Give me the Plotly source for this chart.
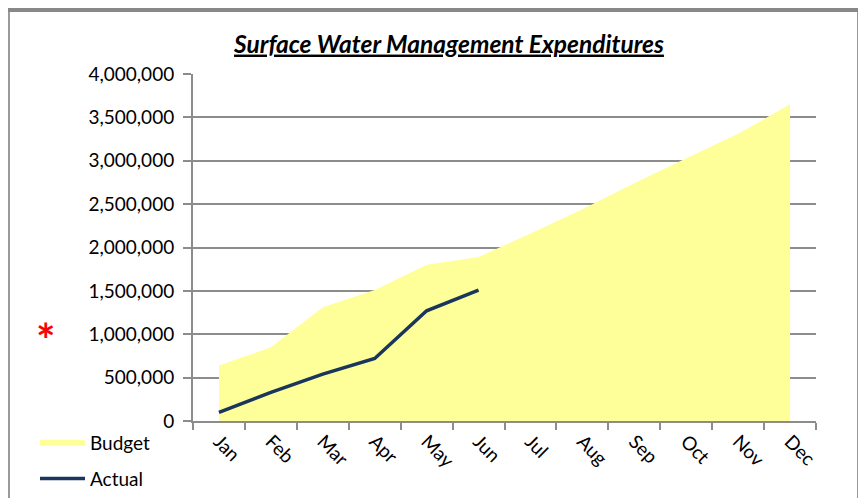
import plotly.graph_objects as go

months = ["Jan", "Feb", "Mar", "Apr", "May", "Jun", "Jul", "Aug", "Sep", "Oct", "Nov", "Dec"]
budget = [640000, 850000, 1310000, 1510000, 1800000, 1890000, 2160000, 2440000, 2740000, 3030000, 3310000, 3650000]
actual = [100000, 330000, 540000, 720000, 1270000, 1510000]
y_ticks = [0, 500000, 1000000, 1500000, 2000000, 2500000, 3000000, 3500000, 4000000]

# the page body adds an 8px offset; figure is sized to fit the window
OFF = 8
W, H = 866 - OFF, 498 - OFF
# plot area in screen pixels
L, R, T, B = 193, 816, 74, 421

def px(x):
    return (x - L) / (R - L)

def py(y):
    return (B - y) / (B - T)

FONT = "Lato, Open Sans, sans-serif"
GRID = "#8c8c8c"

fig = go.Figure()
fig.add_trace(go.Scatter(
    x=months, y=budget, name="Budget", mode="none", fill="tozeroy",
    fillcolor="#FFFF99", legendgroup="a",
))
fig.add_trace(go.Scatter(
    x=months[:len(actual)], y=actual, name="Actual", mode="lines",
    line=dict(color="#1B365D", width=3.5), legendgroup="b",
))

fig.update_layout(
    width=W, height=H,
    margin=dict(l=L - OFF, r=W - (R - OFF), t=T - OFF, b=H - (B - OFF), autoexpand=False),
    paper_bgcolor="white", plot_bgcolor="white",
    font=dict(family=FONT, size=19, color="#000000"),
    title=dict(
        text="<b><i><u>Surface Water Management Expenditures</u></i></b>",
        x=px(449), xref="paper", xanchor="center",
        y=1 - (44 - OFF) / H, yref="container", yanchor="middle",
        font=dict(family=FONT, size=24.5, color="#000000"),
    ),
    showlegend=True,
    legend=dict(
        x=px(35), y=py(424), xanchor="left", yanchor="top",
        xref="paper", yref="paper",
        font=dict(family=FONT, size=19, color="#000000"),
        itemwidth=45, tracegroupgap=8, traceorder="grouped",
        bgcolor="rgba(0,0,0,0)",
    ),
    xaxis=dict(
        type="category", range=[-0.5, 11.5],
        showline=True, linecolor=GRID, linewidth=2,
        ticks="outside", tickson="boundaries", ticklen=7, tickcolor=GRID, tickwidth=2,
        showgrid=False, tickangle=45, tickfont=dict(size=19),
        fixedrange=True,
    ),
    yaxis=dict(
        range=[0, 4000000], tickvals=y_ticks,
        tickformat=",d", showline=True, linecolor=GRID, linewidth=2,
        ticks="outside", ticklen=8, tickcolor=GRID, tickwidth=2,
        showgrid=True, gridcolor=GRID, gridwidth=2, zeroline=False,
        ticklabelstandoff=5, tickfont=dict(size=19),
        fixedrange=True,
    ),
    shapes=[
        dict(type="rect", xref="paper", yref="paper",
             x0=px(9), x1=px(858), y0=py(10), y1=py(520),
             line=dict(color="#9a9a9a", width=2), layer="below"),
        dict(type="line", xref="paper", yref="paper",
             x0=px(8), x1=px(859), y0=py(10), y1=py(10),
             line=dict(color="#888888", width=4), layer="below"),
    ],
    annotations=[
        dict(text="<b>*</b>", x=px(46), y=py(339), xref="paper", yref="paper",
             showarrow=False, font=dict(family=FONT, size=46, color="#FF0000"),
             xanchor="center", yanchor="middle"),
    ],
)

fig.write_html("out.html")
